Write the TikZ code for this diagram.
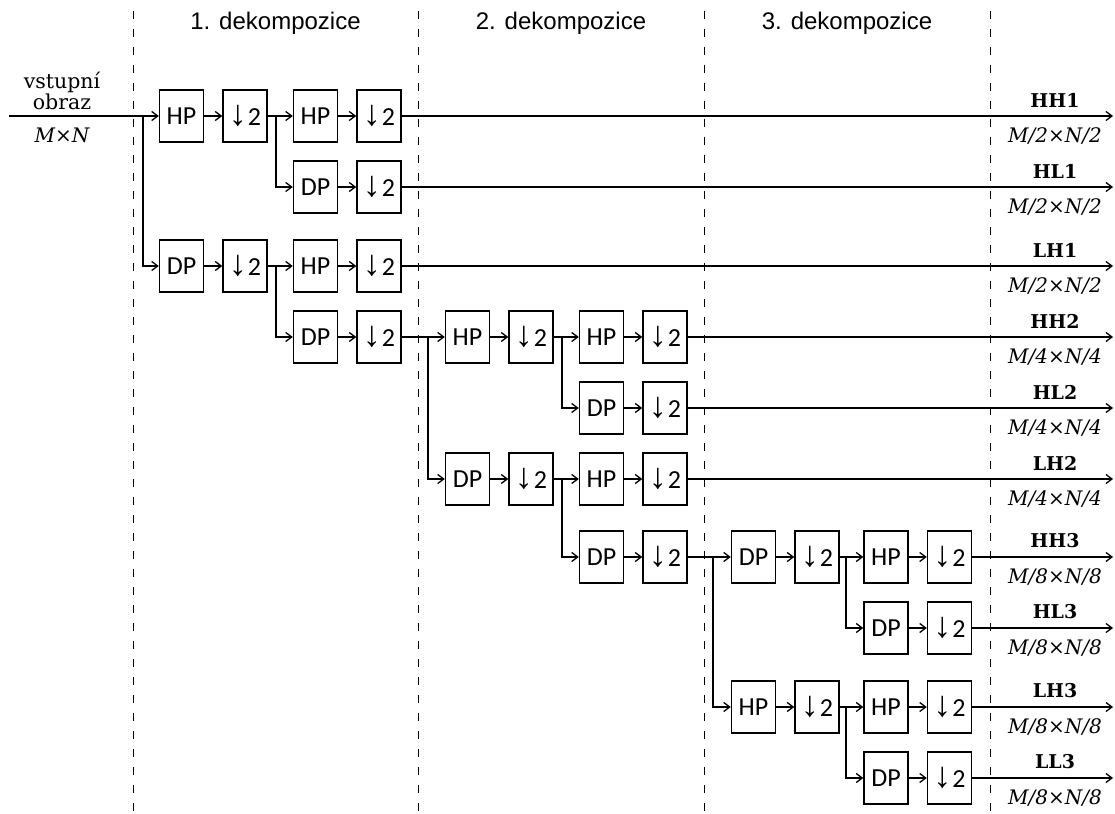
\documentclass[tikz,border=0pt]{standalone}
\usepackage{fontspec}
\setmainfont{DejaVu Serif}
\newfontfamily\boxfont{Carlito}
\newfontfamily\headfont{Liberation Sans}
\usetikzlibrary{arrows.meta}
\newcommand{\dnarrow}{{\headfont\fontsize{36}{36}\selectfont ↓}}
\tikzset{
  filt/.style={draw, line width=1.5pt, minimum width=44pt, minimum height=52pt, inner sep=0pt,
    font=\boxfont\fontsize{26}{30}\selectfont},
  conn/.style={line width=1.4pt},
  arr/.style={conn, -{Straight Barb[length=6pt,width=9pt,line width=1.3pt]}},
  sep/.style={line width=1pt, dash pattern=on 8pt off 10pt},
  head/.style={font=\headfont\fontsize{24}{28}\selectfont},
  band/.style={font=\bfseries\fontsize{19}{22}\selectfont},
  size/.style={font=\itshape\fontsize{20}{22}\selectfont}
}
\begin{document}
\begin{tikzpicture}[x=1pt,y=-1pt]
  \useasboundingbox (0,0) rectangle (1115,813);
  % Decomposition bands
  \foreach \x in {133,418,704,990}
    \draw[sep] (\x,11) -- (\x,813);
  \foreach \x/\n in {275.5/1,561/2,847/3}
    \node[head] (head\n) at (\x,23) {\n. dekompozice};
  % Input image
  \node[align=center, font=\fontsize{20.5}{17}\selectfont] (inp) at (62,91) {vstupní\\obraz};
  \node[size] (inpdim) at (62,135) {M×N};
  \coordinate (input) at (9,116);
  % Filter and downsampling pairs
  \foreach \name/\txt/\x/\y in {a1/HP/181.5/116, a2/DP/181.5/266,
      b1/HP/315.5/116, b2/DP/315.5/187, b3/HP/315.5/266, b4/DP/315.5/337,
      c1/HP/467.5/337, c2/DP/467.5/479,
      d1/HP/601.5/337, d2/DP/601.5/408, d3/HP/601.5/479, d4/DP/601.5/557,
      e1/DP/753.5/557, e2/HP/753.5/707,
      f1/HP/886/557, f2/DP/886/628, f3/HP/886/707, f4/DP/886/778} {
    \node[filt] (\name) at (\x,\y) {\txt};
    \node[filt] (\name d) at (\x+63.5,\y) {\dnarrow\kern1pt2};
    \draw[arr] (\name) -- (\name d);
  }
  % Splitting points
  \foreach \sx/\sy/\src/\up/\lo [count=\i] in {143/116/input/a1/a2,
      276/116/a1d/b1/b2, 276/266/a2d/b3/b4, 428/337/b4d/c1/c2,
      562/337/c1d/d1/d2, 562/479/c2d/d3/d4, 713/557/d4d/e1/e2,
      846/557/e1d/f1/f2, 846/707/e2d/f3/f4} {
    \coordinate (s\i) at (\sx,\sy);
    \draw[conn] (\src) -- (s\i);
    \draw[arr] (s\i) -- (\up);
    \draw[arr] (s\i) |- (\lo);
  }
  % Output subbands
  \foreach \src/\y/\lab/\k in {b1d/116/HH1/2, b2d/187/HL1/2, b3d/266/LH1/2,
      d1d/337/HH2/4, d2d/408/HL2/4, d3d/479/LH2/4,
      f1d/557/HH3/8, f2d/628/HL3/8, f3d/707/LH3/8, f4d/778/LL3/8} {
    \coordinate (o\lab) at (1113,\y);
    \draw[arr] (\src) -- (o\lab);
    \node[band] (n\lab) at (1055,\y-16) {\lab};
    \node[size] (m\lab) at (1055,\y+20) {M/\k×N/\k};
  }
\end{tikzpicture}
\end{document}
